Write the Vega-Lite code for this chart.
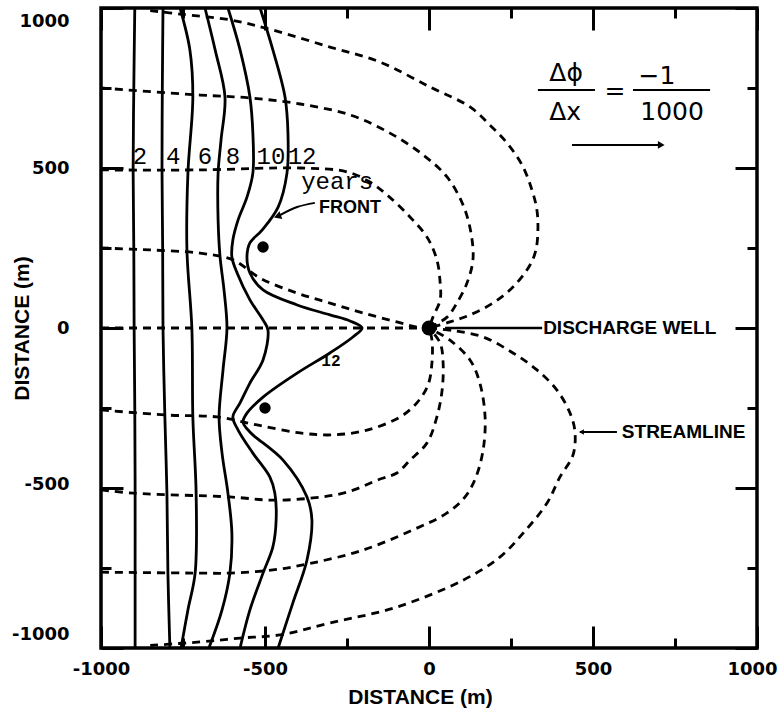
{
  "$schema": "https://vega.github.io/schema/vega-lite/v6.json",
  "width": 656,
  "height": 640,
  "autosize": "none",
  "padding": {"left": 101, "top": 8, "right": 22, "bottom": 64},
  "background": "white",
  "config": {
    "view": {"stroke": "black", "strokeWidth": 3.5},
    "axis": {
      "domain": false,
      "grid": false,
      "tickColor": "black",
      "tickWidth": 3,
      "labelColor": "black",
      "labelFont": "DejaVu Sans",
      "labelFontWeight": "bold",
      "labelFontSize": 18,
      "labelOverlap": false,
      "labelFlush": false,
      "titleColor": "black",
      "titleFont": "Liberation Sans",
      "titleFontWeight": "bold",
      "titleFontSize": 21
    }
  },
  "datasets": {
    "fronts": [
      {"yr": 2, "x": -897, "y": 1000}, {"yr": 2, "x": -900, "y": 750}, {"yr": 2, "x": -902, "y": 500}, {"yr": 2, "x": -900, "y": 250}, {"yr": 2, "x": -899, "y": 0}, {"yr": 2, "x": -897, "y": -250}, {"yr": 2, "x": -896, "y": -500}, {"yr": 2, "x": -896, "y": -750}, {"yr": 2, "x": -896, "y": -1000},
      {"yr": 4, "x": -811, "y": 1000}, {"yr": 4, "x": -813, "y": 750}, {"yr": 4, "x": -814, "y": 500}, {"yr": 4, "x": -812, "y": 250}, {"yr": 4, "x": -811, "y": 0}, {"yr": 4, "x": -805, "y": -288}, {"yr": 4, "x": -799, "y": -516}, {"yr": 4, "x": -796, "y": -766}, {"yr": 4, "x": -790, "y": -1000},
      {"yr": 6, "x": -759, "y": 1000}, {"yr": 6, "x": -729, "y": 869}, {"yr": 6, "x": -720, "y": 722}, {"yr": 6, "x": -735, "y": 484}, {"yr": 6, "x": -738, "y": 244}, {"yr": 6, "x": -723, "y": 0}, {"yr": 6, "x": -720, "y": -278}, {"yr": 6, "x": -710, "y": -516}, {"yr": 6, "x": -713, "y": -766}, {"yr": 6, "x": -735, "y": -881}, {"yr": 6, "x": -756, "y": -1000},
      {"yr": 8, "x": -683, "y": 1000}, {"yr": 8, "x": -652, "y": 869}, {"yr": 8, "x": -622, "y": 722}, {"yr": 8, "x": -634, "y": 588}, {"yr": 8, "x": -643, "y": 484}, {"yr": 8, "x": -643, "y": 338}, {"yr": 8, "x": -637, "y": 222}, {"yr": 8, "x": -625, "y": 119}, {"yr": 8, "x": -616, "y": 0}, {"yr": 8, "x": -628, "y": -131}, {"yr": 8, "x": -640, "y": -278}, {"yr": 8, "x": -631, "y": -391}, {"yr": 8, "x": -613, "y": -516}, {"yr": 8, "x": -601, "y": -641}, {"yr": 8, "x": -607, "y": -766}, {"yr": 8, "x": -631, "y": -881}, {"yr": 8, "x": -671, "y": -1000},
      {"yr": 10, "x": -613, "y": 1000}, {"yr": 10, "x": -576, "y": 869}, {"yr": 10, "x": -546, "y": 722}, {"yr": 10, "x": -537, "y": 609}, {"yr": 10, "x": -537, "y": 484}, {"yr": 10, "x": -555, "y": 409}, {"yr": 10, "x": -582, "y": 338}, {"yr": 10, "x": -598, "y": 275}, {"yr": 10, "x": -601, "y": 222}, {"yr": 10, "x": -585, "y": 172}, {"yr": 10, "x": -546, "y": 88}, {"yr": 10, "x": -506, "y": 25}, {"yr": 10, "x": -491, "y": -6}, {"yr": 10, "x": -506, "y": -100}, {"yr": 10, "x": -546, "y": -172}, {"yr": 10, "x": -576, "y": -234}, {"yr": 10, "x": -598, "y": -278}, {"yr": 10, "x": -582, "y": -319}, {"yr": 10, "x": -537, "y": -391}, {"yr": 10, "x": -485, "y": -466}, {"yr": 10, "x": -470, "y": -516}, {"yr": 10, "x": -466, "y": -600}, {"yr": 10, "x": -476, "y": -684}, {"yr": 10, "x": -506, "y": -766}, {"yr": 10, "x": -546, "y": -881}, {"yr": 10, "x": -576, "y": -1000},
      {"yr": 12, "x": -515, "y": 1000}, {"yr": 12, "x": -476, "y": 869}, {"yr": 12, "x": -439, "y": 722}, {"yr": 12, "x": -430, "y": 609}, {"yr": 12, "x": -433, "y": 484}, {"yr": 12, "x": -460, "y": 378}, {"yr": 12, "x": -509, "y": 306}, {"yr": 12, "x": -546, "y": 266}, {"yr": 12, "x": -555, "y": 222}, {"yr": 12, "x": -546, "y": 172}, {"yr": 12, "x": -506, "y": 119}, {"yr": 12, "x": -402, "y": 72}, {"yr": 12, "x": -302, "y": 41}, {"yr": 12, "x": -241, "y": 22}, {"yr": 12, "x": -204, "y": 0}, {"yr": 12, "x": -232, "y": -28}, {"yr": 12, "x": -302, "y": -78}, {"yr": 12, "x": -402, "y": -141}, {"yr": 12, "x": -506, "y": -216}, {"yr": 12, "x": -555, "y": -266}, {"yr": 12, "x": -567, "y": -294}, {"yr": 12, "x": -546, "y": -325}, {"yr": 12, "x": -445, "y": -413}, {"yr": 12, "x": -372, "y": -528}, {"yr": 12, "x": -357, "y": -600}, {"yr": 12, "x": -372, "y": -725}, {"yr": 12, "x": -415, "y": -859}, {"yr": 12, "x": -460, "y": -1000}
    ],
    "streams": [
      {"s": "S0", "x": -1000, "y": 0}, {"s": "S0", "x": 0, "y": 0},
      {"s": "S1", "x": -1000, "y": 250}, {"s": "S1", "x": -851, "y": 244}, {"s": "S1", "x": -698, "y": 234}, {"s": "S1", "x": -598, "y": 213}, {"s": "S1", "x": -515, "y": 156}, {"s": "S1", "x": -402, "y": 109}, {"s": "S1", "x": -302, "y": 78}, {"s": "S1", "x": -201, "y": 47}, {"s": "S1", "x": -98, "y": 19}, {"s": "S1", "x": -37, "y": 3}, {"s": "S1", "x": 0, "y": 0},
      {"s": "S2", "x": -1000, "y": 494}, {"s": "S2", "x": -698, "y": 494}, {"s": "S2", "x": -393, "y": 500}, {"s": "S2", "x": -250, "y": 488}, {"s": "S2", "x": -180, "y": 456}, {"s": "S2", "x": -128, "y": 416}, {"s": "S2", "x": -58, "y": 347}, {"s": "S2", "x": -6, "y": 284}, {"s": "S2", "x": 24, "y": 213}, {"s": "S2", "x": 34, "y": 141}, {"s": "S2", "x": 34, "y": 88}, {"s": "S2", "x": 12, "y": 34}, {"s": "S2", "x": 0, "y": 0},
      {"s": "S3", "x": -1000, "y": 750}, {"s": "S3", "x": -698, "y": 728}, {"s": "S3", "x": -546, "y": 719}, {"s": "S3", "x": -393, "y": 700}, {"s": "S3", "x": -241, "y": 666}, {"s": "S3", "x": -119, "y": 609}, {"s": "S3", "x": -18, "y": 541}, {"s": "S3", "x": 55, "y": 472}, {"s": "S3", "x": 104, "y": 384}, {"s": "S3", "x": 128, "y": 297}, {"s": "S3", "x": 134, "y": 213}, {"s": "S3", "x": 116, "y": 141}, {"s": "S3", "x": 85, "y": 78}, {"s": "S3", "x": 55, "y": 34}, {"s": "S3", "x": 0, "y": 0},
      {"s": "S4", "x": -850, "y": 992}, {"s": "S4", "x": -759, "y": 981}, {"s": "S4", "x": -607, "y": 963}, {"s": "S4", "x": -476, "y": 931}, {"s": "S4", "x": -302, "y": 878}, {"s": "S4", "x": -149, "y": 831}, {"s": "S4", "x": 3, "y": 753}, {"s": "S4", "x": 125, "y": 691}, {"s": "S4", "x": 186, "y": 634}, {"s": "S4", "x": 238, "y": 578}, {"s": "S4", "x": 284, "y": 509}, {"s": "S4", "x": 314, "y": 431}, {"s": "S4", "x": 329, "y": 369}, {"s": "S4", "x": 332, "y": 306}, {"s": "S4", "x": 326, "y": 244}, {"s": "S4", "x": 308, "y": 197}, {"s": "S4", "x": 256, "y": 128}, {"s": "S4", "x": 195, "y": 78}, {"s": "S4", "x": 125, "y": 41}, {"s": "S4", "x": 64, "y": 19}, {"s": "S4", "x": 0, "y": 0},
      {"s": "T1", "x": -1000, "y": -256}, {"s": "T1", "x": -799, "y": -272}, {"s": "T1", "x": -646, "y": -278}, {"s": "T1", "x": -524, "y": -303}, {"s": "T1", "x": -393, "y": -328}, {"s": "T1", "x": -293, "y": -334}, {"s": "T1", "x": -189, "y": -319}, {"s": "T1", "x": -88, "y": -278}, {"s": "T1", "x": -37, "y": -234}, {"s": "T1", "x": -3, "y": -178}, {"s": "T1", "x": 9, "y": -109}, {"s": "T1", "x": 9, "y": -37}, {"s": "T1", "x": 0, "y": 0},
      {"s": "T2", "x": -1000, "y": -506}, {"s": "T2", "x": -902, "y": -516}, {"s": "T2", "x": -607, "y": -528}, {"s": "T2", "x": -476, "y": -538}, {"s": "T2", "x": -354, "y": -531}, {"s": "T2", "x": -250, "y": -513}, {"s": "T2", "x": -149, "y": -472}, {"s": "T2", "x": -98, "y": -453}, {"s": "T2", "x": -58, "y": -413}, {"s": "T2", "x": -6, "y": -359}, {"s": "T2", "x": 24, "y": -278}, {"s": "T2", "x": 40, "y": -194}, {"s": "T2", "x": 43, "y": -109}, {"s": "T2", "x": 34, "y": -47}, {"s": "T2", "x": 0, "y": 0},
      {"s": "T3", "x": -1000, "y": -763}, {"s": "T3", "x": -698, "y": -766}, {"s": "T3", "x": -607, "y": -766}, {"s": "T3", "x": -476, "y": -756}, {"s": "T3", "x": -354, "y": -734}, {"s": "T3", "x": -201, "y": -694}, {"s": "T3", "x": -49, "y": -631}, {"s": "T3", "x": 55, "y": -578}, {"s": "T3", "x": 110, "y": -528}, {"s": "T3", "x": 143, "y": -466}, {"s": "T3", "x": 165, "y": -381}, {"s": "T3", "x": 171, "y": -278}, {"s": "T3", "x": 155, "y": -172}, {"s": "T3", "x": 125, "y": -100}, {"s": "T3", "x": 64, "y": -38}, {"s": "T3", "x": 0, "y": 0},
      {"s": "T4", "x": -850, "y": -992}, {"s": "T4", "x": -698, "y": -981}, {"s": "T4", "x": -576, "y": -969}, {"s": "T4", "x": -454, "y": -959}, {"s": "T4", "x": -302, "y": -922}, {"s": "T4", "x": -98, "y": -872}, {"s": "T4", "x": 104, "y": -788}, {"s": "T4", "x": 216, "y": -716}, {"s": "T4", "x": 287, "y": -641}, {"s": "T4", "x": 360, "y": -547}, {"s": "T4", "x": 399, "y": -466}, {"s": "T4", "x": 439, "y": -397}, {"s": "T4", "x": 445, "y": -325}, {"s": "T4", "x": 430, "y": -266}, {"s": "T4", "x": 390, "y": -194}, {"s": "T4", "x": 329, "y": -131}, {"s": "T4", "x": 256, "y": -78}, {"s": "T4", "x": 165, "y": -28}, {"s": "T4", "x": 79, "y": -9}, {"s": "T4", "x": 0, "y": 0}
    ],
    "yearLabels": [
      {"t": "2", "x": -881, "y": 534}, {"t": "4", "x": -780, "y": 534}, {"t": "6", "x": -683, "y": 534}, {"t": "8", "x": -598, "y": 534}, {"t": "10", "x": -482, "y": 534}, {"t": "12", "x": -387, "y": 534}, {"t": "years", "x": -280, "y": 456}
    ],
    "boldCenter": [{"t": "FRONT", "x": -241, "y": 375}],
    "boldLeft": [{"t": "DISCHARGE WELL", "x": 348, "y": 0}, {"t": "STREAMLINE", "x": 588, "y": -325}],
    "formula": [
      {"t": "Δϕ", "x": 418, "y": 797}, {"t": "Δx", "x": 415, "y": 675}, {"t": "=", "x": 567, "y": 741}, {"t": "−1", "x": 695, "y": 788}, {"t": "1000", "x": 741, "y": 675}
    ],
    "rules": [
      {"x": 332, "y": 744, "x2": 506, "y2": 744, "w": 2},
      {"x": 622, "y": 744, "x2": 857, "y2": 744, "w": 2},
      {"x": 436, "y": 572, "x2": 700, "y2": 572, "w": 2},
      {"x": 49, "y": 0, "x2": 345, "y2": 0, "w": 2.5},
      {"x": 460, "y": -325, "x2": 573, "y2": -325, "w": 2}
    ],
    "frontArrow": [
      {"x": -348, "y": 391}, {"x": -402, "y": 378}, {"x": -454, "y": 353}
    ],
    "dots": [{"x": -506, "y": 253, "k": "dot"}, {"x": -500, "y": -250, "k": "dot"}, {"x": 0, "y": 0, "k": "well"}]
  },
  "resolve": {"axis": {"x": "independent", "y": "independent"}},
  "layer": [
    {
      "data": {"name": "fronts"},
      "mark": {"type": "line", "color": "black", "strokeWidth": 2.8, "interpolate": "catmull-rom"},
      "encoding": {
        "x": {"field": "x", "type": "quantitative", "scale": {"domain": [-1000, 1000], "nice": false, "zero": false},
          "axis": {"orient": "bottom", "values": [-1000, -750, -500, -250, 0, 250, 500, 750, 1000],
            "labelExpr": "datum.value % 500 === 0 ? '' + datum.value : ''",
            "tickSize": {"condition": {"test": "datum.value % 500 === 0", "value": -22}, "value": -10},
            "labelOffset": {"condition": {"test": "datum.value === 1000", "value": -5}, "value": 0},
            "labelPadding": 34, "title": "DISTANCE (m)", "titleX": 319, "titleY": 49, "titleBaseline": "middle"}},
        "y": {"field": "y", "type": "quantitative", "scale": {"domain": [-1000, 1000], "nice": false, "zero": false},
          "axis": {"orient": "left", "values": [-1000, -750, -500, -250, 0, 250, 500, 750, 1000],
            "labelExpr": "datum.value % 500 === 0 ? '' + datum.value : ''",
            "tickSize": {"condition": {"test": "datum.value % 500 === 0", "value": -22}, "value": -10},
            "labelOffset": {"condition": [{"test": "datum.value === 1000", "value": 13}, {"test": "datum.value === -1000", "value": -14}, {"test": "datum.value === -500", "value": -4}], "value": 0},
            "labelPadding": 54, "title": "DISTANCE (m)", "titleX": -79, "titleY": 320, "titleBaseline": "middle", "titleAngle": -90}},
        "detail": {"field": "yr"},
        "order": {"value": null}
      }
    },
    {
      "data": {"name": "streams"},
      "mark": {"type": "line", "color": "black", "strokeWidth": 2.8, "strokeDash": [8, 6], "interpolate": "catmull-rom"},
      "encoding": {
        "x": {"field": "x", "type": "quantitative", "scale": {"domain": [-1000, 1000], "nice": false, "zero": false},
          "axis": {"orient": "top", "values": [-1000, -750, -500, -250, 0, 250, 500, 750, 1000], "labels": false, "title": null,
            "tickSize": {"condition": {"test": "datum.value % 500 === 0", "value": -22}, "value": -10}}},
        "y": {"field": "y", "type": "quantitative", "scale": {"domain": [-1000, 1000], "nice": false, "zero": false},
          "axis": {"orient": "right", "values": [-1000, -750, -500, -250, 0, 250, 500, 750, 1000], "labels": false, "title": null,
            "tickSize": {"condition": {"test": "datum.value % 500 === 0", "value": -22}, "value": -10}}},
        "detail": {"field": "s"},
        "order": {"value": null}
      }
    },
    {
      "data": {"name": "rules"},
      "mark": {"type": "rule", "color": "black"},
      "encoding": {
        "x": {"field": "x", "type": "quantitative", "axis": null},
        "y": {"field": "y", "type": "quantitative", "axis": null},
        "x2": {"field": "x2"},
        "y2": {"field": "y2"},
        "strokeWidth": {"field": "w", "type": "quantitative", "scale": null}
      }
    },
    {
      "data": {"name": "frontArrow"},
      "mark": {"type": "line", "color": "black", "strokeWidth": 2, "interpolate": "catmull-rom"},
      "encoding": {
        "x": {"field": "x", "type": "quantitative", "axis": null},
        "y": {"field": "y", "type": "quantitative", "axis": null},
        "order": {"value": null}
      }
    },
    {
      "data": {"values": [{"x": -462, "y": 349}]},
      "mark": {"type": "point", "shape": "triangle-up", "filled": true, "color": "black", "size": 70, "angle": 251, "opacity": 1},
      "encoding": {
        "x": {"field": "x", "type": "quantitative", "axis": null},
        "y": {"field": "y", "type": "quantitative", "axis": null}
      }
    },
    {
      "data": {"values": [{"x": 708, "y": 572}]},
      "mark": {"type": "point", "shape": "triangle-up", "filled": true, "color": "black", "size": 60, "angle": 90, "opacity": 1},
      "encoding": {
        "x": {"field": "x", "type": "quantitative", "axis": null},
        "y": {"field": "y", "type": "quantitative", "axis": null}
      }
    },
    {
      "data": {"values": [{"x": 465, "y": -325}]},
      "mark": {"type": "point", "shape": "triangle-up", "filled": true, "color": "black", "size": 30, "angle": 270, "opacity": 1},
      "encoding": {
        "x": {"field": "x", "type": "quantitative", "axis": null},
        "y": {"field": "y", "type": "quantitative", "axis": null}
      }
    },
    {
      "data": {"name": "dots"},
      "mark": {"type": "point", "shape": "circle", "filled": true, "color": "black", "opacity": 1},
      "encoding": {
        "x": {"field": "x", "type": "quantitative", "axis": null},
        "y": {"field": "y", "type": "quantitative", "axis": null},
        "size": {"field": "k", "type": "nominal", "scale": {"domain": ["dot", "well"], "range": [130, 220]}, "legend": null}
      }
    },
    {
      "data": {"name": "yearLabels"},
      "mark": {"type": "text", "font": "Liberation Mono", "fontSize": 24, "color": "black", "align": "center", "baseline": "middle"},
      "encoding": {
        "x": {"field": "x", "type": "quantitative", "axis": null},
        "y": {"field": "y", "type": "quantitative", "axis": null},
        "text": {"field": "t"}
      }
    },
    {
      "data": {"values": [{"t": "12", "x": -299, "y": -103}]},
      "mark": {"type": "text", "font": "Liberation Mono", "fontSize": 16, "fontWeight": "bold", "color": "black", "align": "center", "baseline": "middle"},
      "encoding": {
        "x": {"field": "x", "type": "quantitative", "axis": null},
        "y": {"field": "y", "type": "quantitative", "axis": null},
        "text": {"field": "t"}
      }
    },
    {
      "data": {"name": "boldCenter"},
      "mark": {"type": "text", "font": "Liberation Sans", "fontWeight": "bold", "fontSize": 18, "color": "black", "align": "center", "baseline": "middle"},
      "encoding": {
        "x": {"field": "x", "type": "quantitative", "axis": null},
        "y": {"field": "y", "type": "quantitative", "axis": null},
        "text": {"field": "t"}
      }
    },
    {
      "data": {"name": "boldLeft"},
      "mark": {"type": "text", "font": "Liberation Sans", "fontWeight": "bold", "fontSize": 19, "color": "black", "align": "left", "baseline": "middle"},
      "encoding": {
        "x": {"field": "x", "type": "quantitative", "axis": null},
        "y": {"field": "y", "type": "quantitative", "axis": null},
        "text": {"field": "t"}
      }
    },
    {
      "data": {"name": "formula"},
      "mark": {"type": "text", "font": "DejaVu Sans", "fontSize": 25, "color": "black", "align": "center", "baseline": "middle"},
      "encoding": {
        "x": {"field": "x", "type": "quantitative", "axis": null},
        "y": {"field": "y", "type": "quantitative", "axis": null},
        "text": {"field": "t"}
      }
    }
  ]
}
